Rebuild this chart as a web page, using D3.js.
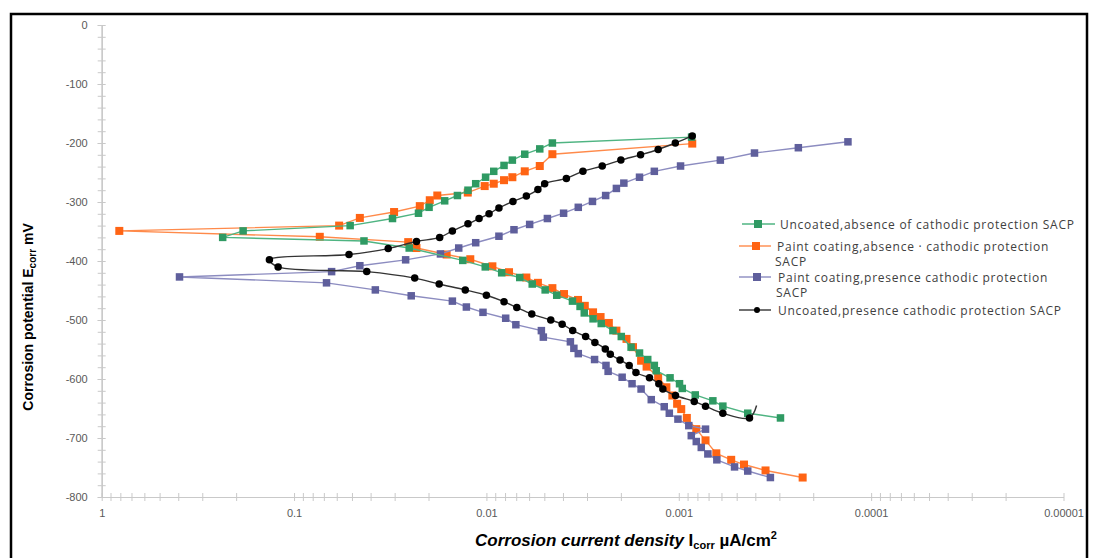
<!DOCTYPE html>
<html lang="en">
<head>
<meta charset="UTF-8">
<title>Corrosion potential vs corrosion current density</title>
<script src="https://d3js.org/d3.v7.min.js"></script>
<style>
  body { margin: 0; background: #fff; font-family: "Liberation Sans", Arial, sans-serif; }
  .axis text { fill: #595959; font-size: 11px; font-family: "Liberation Sans", Arial, sans-serif; }
  .axis line, .axis path { stroke: #c9c9c9; }
  .legend text { fill: #404040; font-size: 12px; letter-spacing: 0.75px; font-family: "Open Sans", sans-serif; }
</style>
</head>
<body>
<div id="chart"></div>
<script>
// Uncoated, absence of cathodic protection SACP (green)
var greenI = [0.000858, 0.00454, 0.00528, 0.00632, 0.00733, 0.00810, 0.00916, 0.0101, 0.01137, 0.01247,
  0.01415, 0.01648, 0.01987, 0.02255, 0.03078, 0.0511, 0.184, 0.235,
  0.0433, 0.0252, 0.01327, 0.01014, 0.00833, 0.00671, 0.00578, 0.00495, 0.00431, 0.00357, 0.00326, 0.00310,
  0.00279, 0.00253, 0.00220, 0.00199, 0.00177, 0.00160, 0.00145, 0.00134, 0.00131, 0.00111,
  0.000991, 0.000959, 0.000821, 0.000665, 0.000590, 0.000438, 0.000296];
var greenE = [-190, -200, -210, -219, -229, -238, -248, -258, -269, -280,
  -289, -298, -309, -319, -328, -340, -349, -360,
  -366, -378, -399, -410, -420, -428, -439, -449, -458, -468, -477, -488,
  -498, -506, -518, -528, -546, -556, -567, -577, -586, -598,
  -608, -616, -627, -637, -646, -658, -666];

// Paint coating, absence cathodic protection SACP (orange)
var orangeI = [0.000851, 0.00454, 0.00528, 0.00632, 0.00733, 0.00810, 0.00916, 0.01021, 0.0125, 0.0180,
  0.0197, 0.0222, 0.0302, 0.0455, 0.0583, 0.810,
  0.0735, 0.0255, 0.0231, 0.0161, 0.01213, 0.00931, 0.00763, 0.00620, 0.00540, 0.00454, 0.00395, 0.00334,
  0.00308, 0.00279, 0.00255, 0.00231, 0.00211, 0.00187, 0.00173, 0.00157, 0.00147, 0.00128, 0.00116, 0.00108,
  0.00102, 0.000971, 0.000908, 0.000811, 0.000726, 0.000638, 0.000534, 0.000458, 0.000354, 0.000227];
var orangeE = [-201, -219, -239, -248, -258, -263, -269, -273, -284, -289,
  -297, -307, -317, -327, -340, -349,
  -359, -368, -378, -389, -397, -409, -419, -428, -437, -446, -456, -466,
  -476, -487, -495, -505, -518, -532, -546, -569, -579, -597, -614, -628,
  -642, -651, -666, -685, -704, -726, -737, -745, -755, -767];

// Paint coating, presence cathodic protection SACP (purple)
var purpleI = [0.000132, 0.000239, 0.000404, 0.000608, 0.000979, 0.00134, 0.00160, 0.00193, 0.00211, 0.00240,
  0.00281, 0.00333, 0.00397, 0.00482, 0.00596, 0.00719, 0.00861, 0.01137, 0.01393, 0.01734,
  0.0263, 0.0455, 0.0638, 0.394,
  0.0678, 0.0378, 0.0246, 0.01503, 0.01271, 0.01042, 0.00794, 0.00703, 0.00518, 0.00506,
  0.00366, 0.00351, 0.00333, 0.00274, 0.00239, 0.00233, 0.00197, 0.00175, 0.00157, 0.00139,
  0.00119, 0.00112, 0.00101, 0.000887, 0.000726, 0.000861, 0.000811, 0.000764, 0.000706, 0.000634,
  0.000513, 0.000438, 0.000334];
var purpleE = [-198, -208, -217, -229, -239, -248, -258, -268, -277, -289,
  -299, -309, -319, -328, -338, -347, -358, -369, -378, -388,
  -398, -408, -418, -427,
  -437, -449, -459, -468, -478, -487, -497, -508, -518, -529,
  -537, -548, -557, -567, -577, -587, -597, -608, -617, -635,
  -647, -658, -668, -679, -685, -696, -706, -716, -727, -737,
  -749, -756, -767];

// Uncoated, presence cathodic protection SACP (black)
var blackI = [0.000851, 0.001042, 0.00128, 0.00158, 0.00200, 0.00250, 0.00315, 0.00384, 0.00498, 0.00540,
  0.00620, 0.00728, 0.00861, 0.00969, 0.01092, 0.01247, 0.01503, 0.0175, 0.0231, 0.0324,
  0.0518, 0.1343, 0.121,
  0.0419, 0.0236, 0.0176, 0.01288, 0.0100, 0.00810, 0.00695, 0.00581, 0.00463, 0.00404, 0.00356,
  0.00305, 0.00273, 0.00241, 0.00227, 0.00202, 0.00181, 0.00167, 0.00142, 0.00127, 0.00121,
  0.00104, 0.000831, 0.000726, 0.000590, 0.000429];
var blackE = [-188, -200, -211, -220, -229, -239, -248, -260, -269, -279,
  -290, -299, -310, -320, -328, -337, -349, -360, -367, -379,
  -389, -398, -410,
  -418, -429, -439, -449, -458, -469, -479, -490, -500, -507, -518,
  -528, -538, -549, -558, -568, -577, -589, -598, -608, -617,
  -628, -638, -646, -658, -666];
// last point of the smoothed black line (no marker)
var blackTailI = [0.000394];
var blackTailE = [-645];

var xTicks = [1, 0.1, 0.01, 0.001, 0.0001, 0.00001];
var xTickLabels = ["1", "0.1", "0.01", "0.001", "0.0001", "0.00001"];
var yTicks = [0, -100, -200, -300, -400, -500, -600, -700, -800];
var yTickLabels = ["0", "-100", "-200", "-300", "-400", "-500", "-600", "-700", "-800"];
var legendLabels = [
  ["Uncoated,absence of cathodic protection SACP"],
  ["Paint coating,absence \u00b7 cathodic protection", "SACP"],
  ["Paint coating,presence cathodic protection", "SACP"],
  ["Uncoated,presence cathodic protection SACP"]
];

var W = 1093, H = 558;
var svg = d3.select("#chart").append("svg")
  .attr("width", W)
  .attr("height", H);

// outer frame
svg.append("rect")
  .attr("x", 11).attr("y", 14)
  .attr("width", 1076).attr("height", 600)
  .attr("fill", "none")
  .attr("stroke", "#000")
  .attr("stroke-width", 2.5);

var x = d3.scaleLog().domain([1, 0.00001]).range([101.7, 1063.5]);
var y = d3.scaleLinear().domain([0, -800]).range([25, 497]);

// minor x ticks (2..9 in every decade)
var xMinor = [];
xTicks.slice(1).forEach(function(d) {
  for (var k = 2; k <= 9; k++) xMinor.push(k * d);
});
var yMinor = d3.range(0, -801, -20);

var yBase = y(-800);

// x axis: labels + ticks below, ticks above
var xAxisG = svg.append("g").attr("class", "axis")
  .attr("transform", "translate(0," + yBase + ")");
xAxisG.append("g")
  .call(d3.axisBottom(x).tickValues(xMinor).tickFormat("").tickSize(4).tickSizeOuter(0));
xAxisG.append("g")
  .call(d3.axisTop(x).tickValues(xMinor.concat(xTicks)).tickFormat("").tickSize(4).tickSizeOuter(0));
xAxisG.append("g")
  .call(d3.axisBottom(x).tickValues(xTicks)
    .tickFormat(function(d, i) { return xTickLabels[i]; })
    .tickSize(4).tickSizeOuter(0).tickPadding(8));

// y axis
var yAxisG = svg.append("g").attr("class", "axis")
  .attr("transform", "translate(" + x(1) + ",0)");
yAxisG.append("g")
  .call(d3.axisRight(y).tickValues(yMinor).tickFormat("").tickSize(4).tickSizeOuter(0));
yAxisG.append("g")
  .call(d3.axisLeft(y).tickValues(yMinor).tickFormat("").tickSize(4).tickSizeOuter(0));
yAxisG.append("g")
  .call(d3.axisLeft(y).tickValues(yTicks)
    .tickFormat(function(d, i) { return yTickLabels[i]; })
    .tickSize(4).tickSizeOuter(0).tickPadding(10));

svg.selectAll(".axis .domain").attr("stroke", "#c9c9c9");

// series
function zip(I, E) {
  return I.map(function(d, i) { return { i: d, e: E[i] }; });
}

var series = [
  { name: "orange", data: zip(orangeI, orangeE), line: "#ff8a4a", fill: "#ff6414", shape: "square", size: 8 },
  { name: "purple", data: zip(purpleI, purpleE), line: "#8c8cc0", fill: "#5f5f9c", shape: "square", size: 7.5 },
  { name: "green", data: zip(greenI, greenE), line: "#4fb482", fill: "#2f9a63", shape: "square", size: 7.5 },
  { name: "black", data: zip(blackI, blackE), tail: zip(blackTailI, blackTailE), line: "#333", fill: "#000", shape: "circle", size: 7.5, smooth: true }
];

series.forEach(function(s) {
  var g = svg.append("g").attr("class", "series " + s.name);
  var lineGen = d3.line()
    .x(function(d) { return x(d.i); })
    .y(function(d) { return y(d.e); });
  if (s.smooth) lineGen.curve(d3.curveCatmullRom.alpha(0.5));
  var pts = s.tail ? s.data.concat(s.tail) : s.data;
  g.append("path")
    .datum(pts)
    .attr("fill", "none")
    .attr("stroke", s.line)
    .attr("stroke-width", 1.4)
    .attr("d", lineGen);
  if (s.shape === "square") {
    g.selectAll("rect").data(s.data).enter().append("rect")
      .attr("x", function(d) { return x(d.i) - s.size / 2; })
      .attr("y", function(d) { return y(d.e) - s.size / 2; })
      .attr("width", s.size).attr("height", s.size)
      .attr("fill", s.fill);
  } else {
    g.selectAll("circle").data(s.data).enter().append("circle")
      .attr("cx", function(d) { return x(d.i); })
      .attr("cy", function(d) { return y(d.e); })
      .attr("r", s.size / 2)
      .attr("fill", s.fill);
  }
});

// legend
var legendItems = [
  { s: series[2], y: 224, lx1: 742, lx2: 775, mx: 758, tx: 780 },
  { s: series[0], y: 246, lx1: 739, lx2: 771, mx: 756, tx: 777 },
  { s: series[1], y: 277, lx1: 739, lx2: 771, mx: 757, tx: 778 },
  { s: series[3], y: 310, lx1: 739, lx2: 771, mx: 757, tx: 778 }
];
var legend = svg.append("g").attr("class", "legend");
legendItems.forEach(function(it, k) {
  var g = legend.append("g");
  g.append("line")
    .attr("x1", it.lx1).attr("x2", it.lx2)
    .attr("y1", it.y).attr("y2", it.y)
    .attr("stroke", it.s.line).attr("stroke-width", 1.4);
  if (it.s.shape === "square") {
    g.append("rect")
      .attr("x", it.mx - 4).attr("y", it.y - 4)
      .attr("width", 8).attr("height", 8)
      .attr("fill", it.s.fill);
  } else {
    g.append("circle")
      .attr("cx", it.mx).attr("cy", it.y).attr("r", 3)
      .attr("fill", it.s.fill);
  }
  legendLabels[k].forEach(function(t, j) {
    g.append("text")
      .attr("x", it.tx - (j > 0 ? 2 : 0))
      .attr("y", it.y + 4.5 + j * 15)
      .text(t);
  });
});

// axis titles
var xt = svg.append("text")
  .attr("x", 626).attr("y", 546)
  .attr("text-anchor", "middle")
  .attr("font-size", 17)
  .attr("font-weight", "bold")
  .attr("fill", "#000");
xt.append("tspan").attr("font-style", "italic").text("Corrosion current density ");
xt.append("tspan").text("I");
xt.append("tspan").attr("font-size", 11).attr("dy", 3).text("corr");
xt.append("tspan").attr("dy", -3).text(" \u00b5A/cm");
xt.append("tspan").attr("font-size", 11).attr("dy", -7).text("2");

var yt = svg.append("text")
  .attr("transform", "translate(33,317) rotate(-90)")
  .attr("text-anchor", "middle")
  .attr("font-size", 14)
  .attr("font-weight", "bold")
  .attr("fill", "#000");
yt.append("tspan").text("Corrosion potential E");
yt.append("tspan").attr("font-size", 10).attr("dy", 3).text("corr");
yt.append("tspan").attr("dy", -3).text(" mV");
</script>
</body>
</html>
